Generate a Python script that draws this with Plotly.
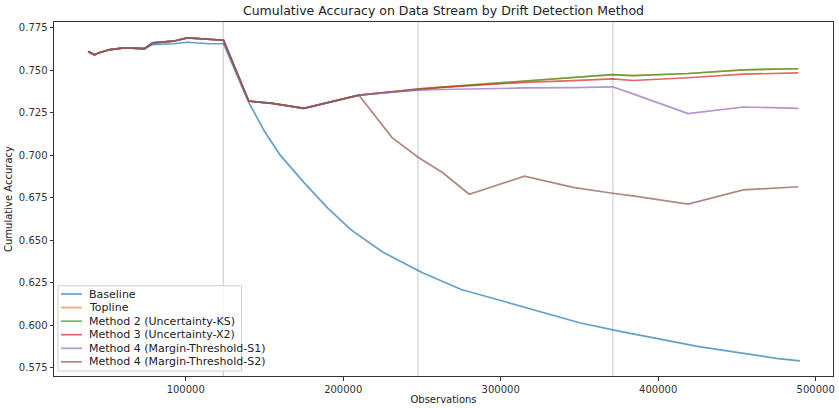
import plotly.graph_objects as go

# ---- data ----
base_x = [38000, 42000, 45000, 52000, 61000, 71000, 74000, 79000, 92000, 101000, 115000, 124000,
          130000, 140000, 150000, 160000, 175000, 190000, 205000, 225000, 250000, 275000, 300000,
          325000, 350000, 375000, 400000, 425000, 450000, 475000, 490000]
baseline = [0.761, 0.759, 0.7602, 0.7621, 0.7631, 0.763, 0.7627, 0.765, 0.7655, 0.7664, 0.7655, 0.7655,
            0.7526, 0.731, 0.714, 0.700, 0.684, 0.669, 0.656, 0.643, 0.631, 0.621, 0.6145,
            0.608, 0.6014, 0.5965, 0.592, 0.5875, 0.584, 0.5805, 0.579]

obs = [38000, 42000, 45000, 52000, 61000, 71000, 74000, 79000, 92000, 101000, 115000, 124000,
       140000, 155000, 175000, 192000, 210000, 231000, 248000, 263000, 280000, 315000, 346000,
       371000, 384000, 419000, 454000, 489000]
early = [0.761, 0.759, 0.7602, 0.7621, 0.7631, 0.763, 0.7627, 0.766, 0.767, 0.769, 0.768, 0.7676,
         0.7318, 0.7304, 0.7275, 0.7315, 0.7353]
method2_late = [0.7372, 0.739, 0.7400, 0.7412, 0.7438, 0.7458, 0.7474, 0.7468, 0.7480, 0.7502, 0.7508]
method3_late = [0.7372, 0.7388, 0.7398, 0.7408, 0.7428, 0.7438, 0.7449, 0.7439, 0.7455, 0.7476, 0.7484]
method4s1_late = [0.7370, 0.7382, 0.7386, 0.7390, 0.7395, 0.7397, 0.7402, 0.7360, 0.7244, 0.7283, 0.7275]
method4s2_late = [0.7103, 0.6985, 0.6898, 0.677, 0.6876, 0.681, 0.6776, 0.676, 0.6712, 0.6796, 0.6814]

topline = early + method2_late
method2 = early + method2_late
method3 = early + method3_late
method4s1 = early + method4s1_late
method4s2 = early + method4s2_late

drift_points = [123750, 247500, 371250]

names = ["Baseline", "Topline", "Method 2 (Uncertainty-KS)", "Method 3 (Uncertainty-X2)",
         "Method 4 (Margin-Threshold-S1)", "Method 4 (Margin-Threshold-S2)"]
colors = ["rgba(31,119,180,0.7)", "rgba(255,127,14,0.7)", "rgba(44,160,44,0.7)",
          "rgba(214,39,40,0.7)", "rgba(148,103,189,0.7)", "rgba(140,86,75,0.7)"]
series_x = [base_x, obs, obs, obs, obs, obs]
series_y = [baseline, topline, method2, method3, method4s1, method4s2]

fig = go.Figure()
for n, c, xs, ys in zip(names, colors, series_x, series_y):
    fig.add_trace(go.Scatter(x=xs, y=ys, mode="lines", name=n, showlegend=False,
                             line=dict(color=c, width=1.7)))

for d in drift_points:
    fig.add_shape(type="line", x0=d, x1=d, y0=0, y1=1, xref="x", yref="paper",
                  line=dict(color="rgba(128,128,128,0.45)", width=1), layer="below")

font = "DejaVu Sans, sans-serif"

# ---- legend drawn in the matplotlib style (compact rows) ----
W, H = 839, 408
ML, MR, MT, MB = 54, 4, 22, 31
PW, PH = W - ML - MR, H - MT - MB


def px(xp):
    return (xp - ML) / PW


def py(yp):
    return (H - MB - yp) / PH


fig.add_shape(type="rect", xref="paper", yref="paper",
              x0=px(58), x1=px(242), y0=py(372), y1=py(286.5),
              line=dict(color="#d0d0d0", width=1), fillcolor="rgba(255,255,255,0.8)", layer="above")
row0, row_step = 294.8, 13.6
for i, (n, c) in enumerate(zip(names, colors)):
    yy = row0 + i * row_step
    fig.add_shape(type="line", xref="paper", yref="paper", x0=px(61), x1=px(82),
                  y0=py(yy), y1=py(yy), line=dict(color=c, width=1.7), layer="above")
    fig.add_annotation(xref="paper", yref="paper", x=px(87), y=py(yy), text=n,
                       showarrow=False, xanchor="left", yanchor="middle",
                       font=dict(size=11, color="#222222", family=font))

axis_common = dict(showgrid=False, zeroline=False, showline=True, mirror=True,
                   linecolor="#333333", linewidth=1, ticks="outside", ticklen=3.5,
                   tickcolor="#333333", tickfont=dict(size=10, color="#333333", family=font))

fig.update_layout(
    width=W, height=H,
    margin=dict(l=ML, r=MR, t=MT, b=MB),
    plot_bgcolor="white", paper_bgcolor="white",
    title=dict(text="Cumulative Accuracy on Data Stream by Drift Detection Method",
               x=0.5, xref="paper", xanchor="center", y=1 - 11 / 408, yanchor="middle",
               font=dict(size=12.5, color="#222222", family=font)),
    xaxis=dict(range=[16350, 511000], tickvals=[100000, 200000, 300000, 400000, 500000],
               ticktext=["100000", "200000", "300000", "400000", "500000"],
               title=dict(text="Observations", font=dict(size=10, color="#222222", family=font),
                          standoff=2),
               **axis_common),
    yaxis=dict(range=[0.5701, 0.7783],
               tickvals=[0.575, 0.6, 0.625, 0.65, 0.675, 0.7, 0.725, 0.75, 0.775],
               ticktext=["0.575", "0.600", "0.625", "0.650", "0.675", "0.700", "0.725", "0.750", "0.775"],
               title=dict(text="Cumulative Accuracy", font=dict(size=10, color="#222222", family=font),
                          standoff=4),
               **axis_common),
    showlegend=False,
)

fig.write_html("out.html")
